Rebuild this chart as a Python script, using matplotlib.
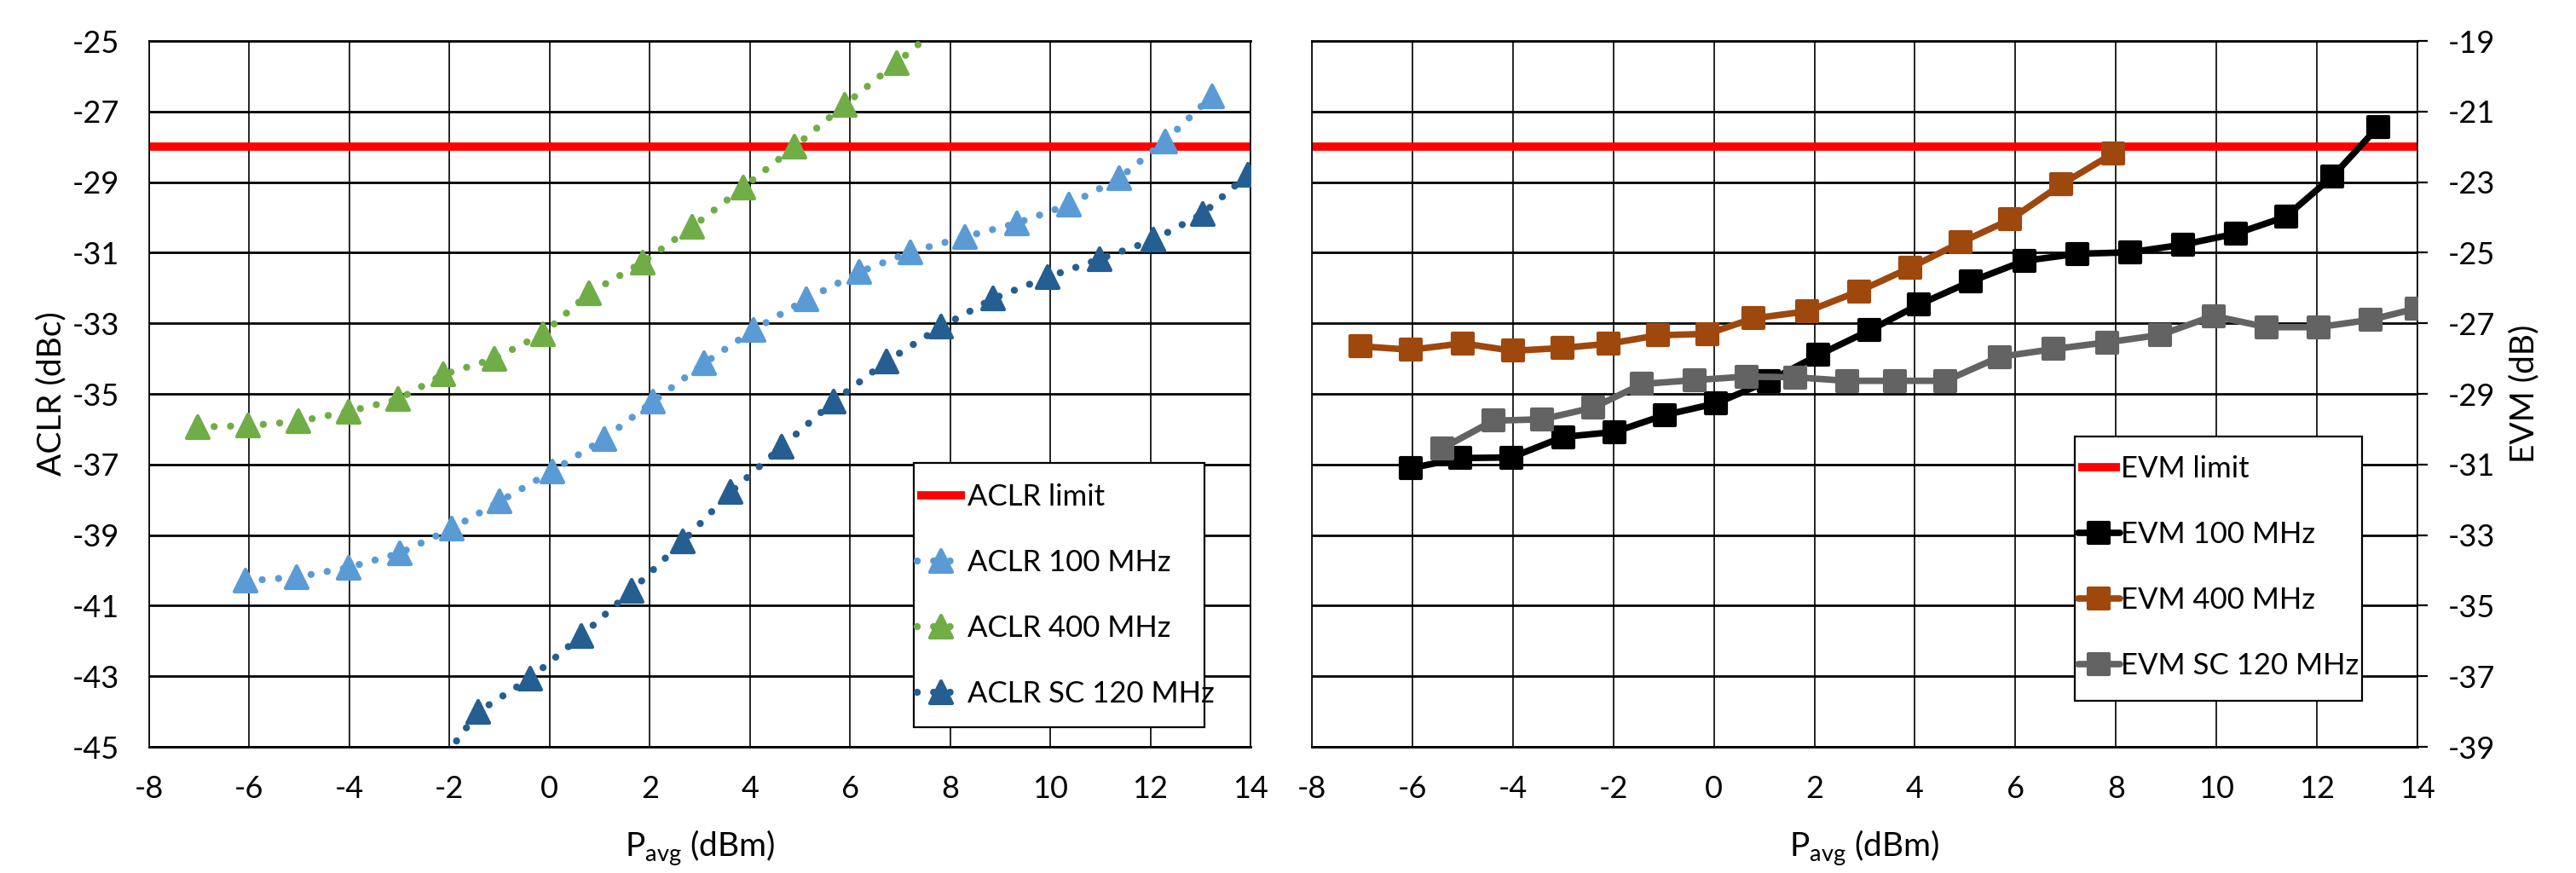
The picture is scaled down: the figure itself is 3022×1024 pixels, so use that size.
import matplotlib
matplotlib.use("Agg")
import matplotlib.pyplot as plt
from matplotlib.markers import MarkerStyle
from matplotlib.patches import Rectangle

plt.rcParams['font.family'] = ['Lato', 'DejaVu Sans']
plt.rcParams['mathtext.fontset'] = 'custom'
plt.rcParams['mathtext.rm'] = 'Lato'
plt.rcParams['mathtext.it'] = 'Lato'

# ---------------- data ----------------
aclr_limit = -28.0
evm_limit = -22.0

aclr100_x = [-6.07, -5.05, -4.02, -2.99, -1.96, -1.0, 0.05, 1.09, 2.07, 3.09, 4.08, 5.13,
             6.19, 7.2, 8.3, 9.34, 10.37, 11.37, 12.29, 13.23]
aclr100_y = [-40.3, -40.19, -39.92, -39.51, -38.82, -38.05, -37.19, -36.27, -35.21, -34.13,
             -33.18, -32.32, -31.55, -30.98, -30.55, -30.16, -29.64, -28.9, -27.84, -26.56]

aclr400_x = [-7.03, -6.02, -5.02, -4.02, -3.02, -2.12, -1.1, -0.14, 0.79, 1.86, 2.85, 3.87,
             4.89, 5.9, 6.93, 7.95]
aclr400_y = [-35.94, -35.9, -35.78, -35.5, -35.15, -34.45, -34.0, -33.3, -32.15, -31.27,
             -30.27, -29.15, -28.0, -26.8, -25.62, -24.4]

aclrsc_x = [-2.45, -1.42, -0.39, 0.63, 1.63, 2.66, 3.62, 4.64, 5.67, 6.73, 7.82, 8.86,
            9.95, 10.99, 12.06, 13.04, 13.95]
aclrsc_y = [-45.95, -44.0, -43.06, -41.86, -40.58, -39.18, -37.78, -36.49, -35.22, -34.08,
            -33.1, -32.3, -31.69, -31.18, -30.64, -29.9, -28.79]

evm100_x = [-6.04, -5.05, -4.03, -3.0, -1.98, -0.98, 0.04, 1.1, 2.08, 3.1, 4.08, 5.12,
            6.18, 7.24, 8.28, 9.34, 10.39, 11.38, 12.31, 13.22]
evm100_y = [-31.11, -30.82, -30.8, -30.22, -30.08, -29.6, -29.27, -28.63, -27.9, -27.2,
            -26.47, -25.81, -25.23, -25.03, -24.99, -24.77, -24.46, -23.98, -22.84, -21.43]

evm400_x = [-7.04, -6.03, -5.0, -4.0, -3.02, -2.1, -1.11, -0.13, 0.79, 1.86, 2.89, 3.9,
            4.91, 5.9, 6.91, 7.94]
evm400_y = [-27.65, -27.75, -27.57, -27.78, -27.7, -27.58, -27.34, -27.3, -26.86, -26.66,
            -26.09, -25.43, -24.71, -24.06, -23.07, -22.19]

evmsc_x = [-5.4, -4.39, -3.42, -2.4, -1.43, -0.39, 0.65, 1.62, 2.65, 3.6, 4.61, 5.69,
           6.76, 7.82, 8.88, 9.94, 11.0, 12.03, 13.07, 13.98]
evmsc_y = [-30.54, -29.76, -29.72, -29.39, -28.72, -28.61, -28.51, -28.53, -28.63, -28.63,
           -28.63, -27.95, -27.73, -27.54, -27.33, -26.79, -27.11, -27.11, -26.9, -26.58]

x_ticks = [-8, -6, -4, -2, 0, 2, 4, 6, 8, 10, 12, 14]
aclr_ticks = [-45, -43, -41, -39, -37, -35, -33, -31, -29, -27, -25]
evm_ticks = [-39, -37, -35, -33, -31, -29, -27, -25, -23, -21, -19]

labels_aclr = ['ACLR limit', 'ACLR 100 MHz', 'ACLR 400 MHz', 'ACLR SC 120 MHz']
labels_evm = ['EVM limit', 'EVM 100 MHz', 'EVM 400 MHz', 'EVM SC 120 MHz']

# ---------------- style ----------------
RED = '#FF0000'
LBLUE = '#5B9BD5'
GREEN = '#70AD47'
DBLUE = '#255E91'
BROWN = '#9E480E'
GRAY = '#636363'
BLACK = '#000000'

FS_TICK = 26
FS_LAB = 28
FS_LEG = 25

W, H = 3022, 1024
fig = plt.figure(figsize=(W / 100, H / 100), dpi=100)

ax_top, ax_bot = 48, 876
ax1_l, ax1_r = 175, 1467
ax2_l, ax2_r = 1539, 2836

def frac_rect(l, r):
    return [l / W, 1 - ax_bot / H, (r - l) / W, (ax_bot - ax_top) / H]

ax1 = fig.add_axes(frac_rect(ax1_l, ax1_r))
ax2 = fig.add_axes(frac_rect(ax2_l, ax2_r))

tri = MarkerStyle('^', joinstyle='round')
sq = MarkerStyle('s', joinstyle='round')

def style_axes(ax, yticks, ylim):
    ax.set_xlim(-8, 14)
    ax.set_ylim(*ylim)
    ax.set_xticks(x_ticks)
    ax.set_yticks(yticks)
    ax.set_xticklabels([str(v) for v in x_ticks])
    ax.set_yticklabels([str(v) for v in yticks])
    ax.yaxis.grid(True, color='black', lw=2.0)
    ax.xaxis.grid(True, color='black', lw=1.2)
    ax.set_axisbelow(True)
    for sp in ax.spines.values():
        sp.set_color('black')
        sp.set_linewidth(1.2)
    ax.spines['top'].set_linewidth(2.0)
    ax.spines['bottom'].set_linewidth(2.0)
    ax.tick_params(axis='x', length=0, pad=24, labelsize=FS_TICK)

# ---------------- left: ACLR ----------------
style_axes(ax1, aclr_ticks, (-45, -25))
ax1.tick_params(axis='y', length=0, pad=25, labelsize=FS_TICK)

dot_kw = dict(lw=6, linestyle=(0, (0.01, 2.3)), dash_capstyle='round',
              marker=tri, ms=19, mew=3, solid_joinstyle='round')
h0 = ax1.axhline(aclr_limit, color=RED, lw=7, zorder=2, solid_capstyle='butt')
h1, = ax1.plot(aclr100_x, aclr100_y, color=LBLUE, mfc=LBLUE, mec=LBLUE, zorder=3, **dot_kw)
h2, = ax1.plot(aclr400_x, aclr400_y, color=GREEN, mfc=GREEN, mec=GREEN, zorder=3, **dot_kw)
h3, = ax1.plot(aclrsc_x, aclrsc_y, color=DBLUE, mfc=DBLUE, mec=DBLUE, zorder=3, **dot_kw)

ax1.set_ylabel('ACLR (dBc)', fontsize=FS_LAB)
ax1.yaxis.set_label_coords(-0.075, 0.5)
ax1.set_xlabel(r'P$_{\mathregular{avg}}$ (dBm)', fontsize=FS_LAB)
ax1.xaxis.label.set_va('center')
ax1.xaxis.set_label_coords(0.5, -0.1437)

def box(ax, l, r, t, b, axl, axr):
    x0 = (l - axl) / (axr - axl)
    w = (r - l) / (axr - axl)
    y0 = (ax_bot - b) / (ax_bot - ax_top)
    hh = (b - t) / (ax_bot - ax_top)
    ax.add_patch(Rectangle((x0, y0), w, hh, transform=ax.transAxes, facecolor='white',
                           edgecolor='black', lw=1.6, zorder=5))

box(ax1, 1072, 1413, 543, 853, ax1_l, ax1_r)
leg1 = ax1.legend([h0, h1, h2, h3], labels_aclr, loc='upper left',
                  bbox_to_anchor=((1076 - ax1_l) / (ax1_r - ax1_l), (ax_bot - 567) / (ax_bot - ax_top)),
                  frameon=False, fontsize=FS_LEG, borderpad=0, borderaxespad=0,
                  handlelength=1.6, handletextpad=0.1, labelspacing=1.3, numpoints=1)
leg1.set_zorder(6)

# ---------------- right: EVM ----------------
style_axes(ax2, evm_ticks, (-39, -19))
ax2.yaxis.tick_right()
ax2.yaxis.set_label_position('right')
ax2.tick_params(axis='y', which='both', left=False, right=True, direction='out',
                length=8.6, width=1.6, pad=17, labelsize=FS_TICK)

sol_kw = dict(lw=5.5, marker=sq, ms=17, mew=3, solid_joinstyle='round', solid_capstyle='round')
g0 = ax2.axhline(evm_limit, color=RED, lw=7, zorder=2, solid_capstyle='butt')
g1, = ax2.plot(evm100_x, evm100_y, color=BLACK, mfc=BLACK, mec=BLACK, zorder=3, **sol_kw)
g2, = ax2.plot(evm400_x, evm400_y, color=BROWN, mfc=BROWN, mec=BROWN, zorder=3, **sol_kw)
g3, = ax2.plot(evmsc_x, evmsc_y, color=GRAY, mfc=GRAY, mec=GRAY, zorder=3, **sol_kw)

ax2.set_ylabel('EVM (dB)', fontsize=FS_LAB)
ax2.yaxis.set_label_coords(1.083, 0.5)
ax2.set_xlabel(r'P$_{\mathregular{avg}}$ (dBm)', fontsize=FS_LAB)
ax2.xaxis.label.set_va('center')
ax2.xaxis.set_label_coords(0.5, -0.1437)

box(ax2, 2434, 2771, 512, 822, ax2_l, ax2_r)
leg2 = ax2.legend([g0, g1, g2, g3], labels_evm, loc='upper left',
                  bbox_to_anchor=((2438 - ax2_l) / (ax2_r - ax2_l), (ax_bot - 534) / (ax_bot - ax_top)),
                  frameon=False, fontsize=FS_LEG, borderpad=0, borderaxespad=0,
                  handlelength=1.4, handletextpad=0.05, labelspacing=1.3, numpoints=1)
leg2.set_zorder(6)

fig.savefig('out.png', dpi=100, facecolor='white')
